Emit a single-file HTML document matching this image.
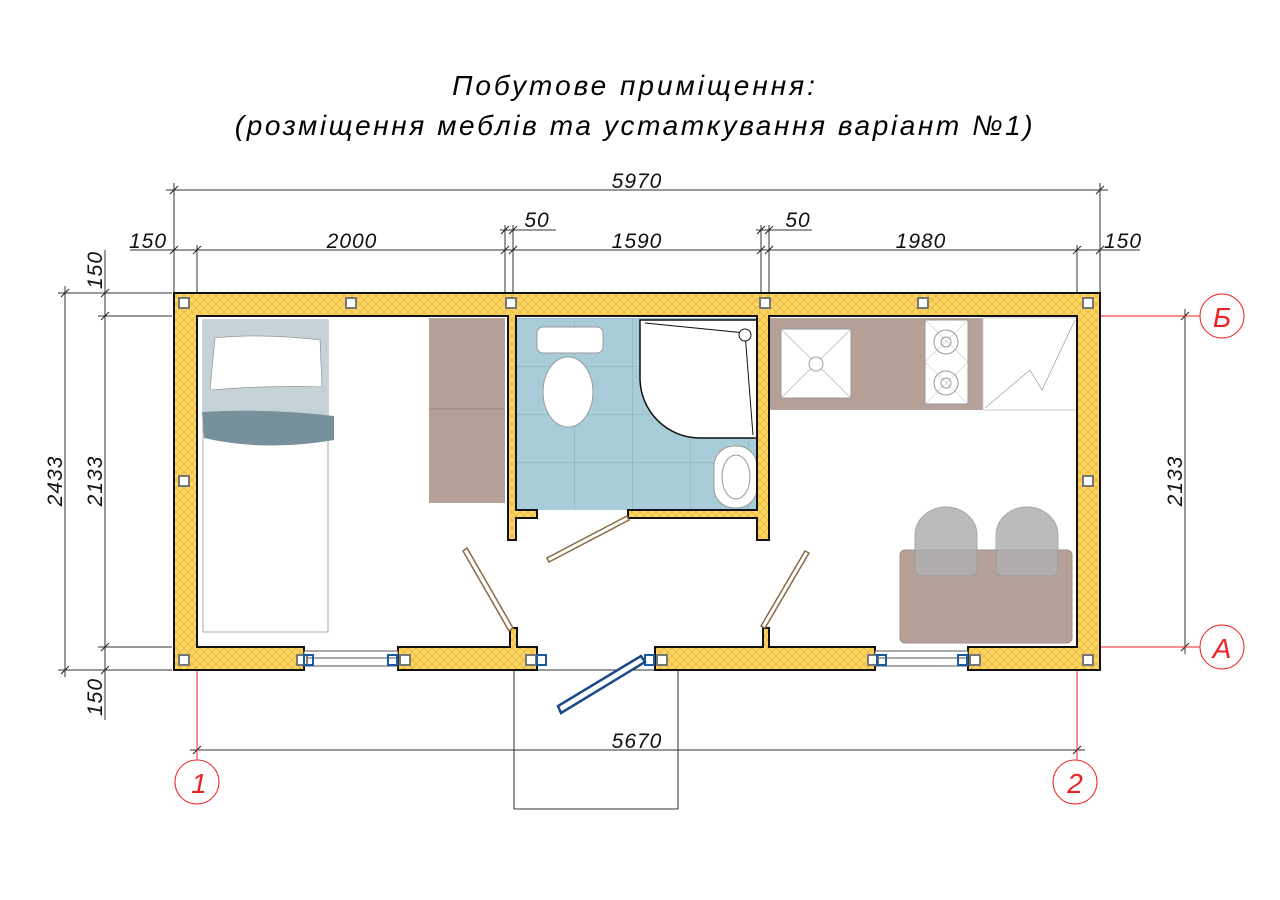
<!DOCTYPE html>
<html><head><meta charset="utf-8"><style>
html,body{margin:0;padding:0;background:#fff;}
svg{display:block}
text{font-family:"Liberation Sans",sans-serif;font-style:italic;}
</style></head><body>
<svg width="1280" height="900" viewBox="0 0 1280 900" xmlns="http://www.w3.org/2000/svg">
<defs>
<pattern id="h" width="8" height="8" patternUnits="userSpaceOnUse">
<rect width="8" height="8" fill="#fdd55e"/>
<path d="M0 0L8 8M8 0L0 8" stroke="#d9a93a" stroke-width="0.6"/>
</pattern>
<pattern id="tile" width="58" height="48" patternUnits="userSpaceOnUse" x="516" y="318">
<rect width="58" height="48" fill="#a9cdd8"/>
<path d="M0 0V48M0 0H58" stroke="#7fa0b4" stroke-width="0.8"/>
</pattern>
</defs>

<text x="635" y="95" font-size="28" text-anchor="middle" letter-spacing="3">Побутове приміщення:</text>
<text x="635" y="135" font-size="28" text-anchor="middle" letter-spacing="2.6">(розміщення меблів та устаткування варіант №1)</text>

<g stroke="#333" stroke-width="1" fill="none">
<line x1="166" y1="190" x2="1108" y2="190"/>
<line x1="174" y1="183" x2="174" y2="292"/><line x1="1100" y1="183" x2="1100" y2="292"/>
<line x1="130" y1="250" x2="1140" y2="250"/>
<line x1="197" y1="245" x2="197" y2="316"/>
<line x1="505" y1="225" x2="505" y2="293"/><line x1="513" y1="225" x2="513" y2="293"/>
<line x1="761" y1="225" x2="761" y2="293"/><line x1="769" y1="225" x2="769" y2="293"/>
<line x1="1077" y1="245" x2="1077" y2="316"/>
<line x1="500" y1="230" x2="556" y2="230"/><line x1="756" y1="230" x2="812" y2="230"/>
<line x1="58" y1="293" x2="172" y2="293"/><line x1="98" y1="316" x2="172" y2="316"/>
<line x1="98" y1="647" x2="172" y2="647"/><line x1="58" y1="670" x2="172" y2="670"/>
<line x1="65" y1="286" x2="65" y2="677"/>
<line x1="105" y1="250" x2="105" y2="720"/>
<line x1="1185" y1="309" x2="1185" y2="654"/>
<line x1="1163" y1="316" x2="1195" y2="316"/><line x1="1163" y1="647" x2="1195" y2="647"/>
<line x1="190" y1="750" x2="1085" y2="750"/>
<rect x="514" y="670" width="164" height="139"/>
</g>
<g stroke="#222" stroke-width="1">
<path d="M170 194l8-8M1096 194l8-8M170 254l8-8M193 254l8-8M501 254l8-8M509 254l8-8M501 234l8-8M509 234l8-8M757 254l8-8M765 254l8-8M757 234l8-8M765 234l8-8M1073 254l8-8M1096 254l8-8M61 297l8-8M61 674l8-8M101 320l8-8M101 651l8-8M101 297l8-8M101 674l8-8M1181 320l8-8M1181 651l8-8M193 754l8-8M1073 754l8-8"/>
</g>
<g font-size="21" fill="#111" letter-spacing="1">
<text x="148" y="248" text-anchor="middle">150</text>
<text x="352" y="248" text-anchor="middle">2000</text>
<text x="537" y="227" text-anchor="middle">50</text>
<text x="637" y="248" text-anchor="middle">1590</text>
<text x="798" y="227" text-anchor="middle">50</text>
<text x="921" y="248" text-anchor="middle">1980</text>
<text x="1123" y="248" text-anchor="middle">150</text>
<text x="637" y="188" text-anchor="middle">5970</text>
<text x="637" y="748" text-anchor="middle">5670</text>
<text transform="translate(62,481) rotate(-90)" text-anchor="middle">2433</text>
<text transform="translate(102,481) rotate(-90)" text-anchor="middle">2133</text>
<text transform="translate(1182,481) rotate(-90)" text-anchor="middle">2133</text>
<text transform="translate(102,270) rotate(-90)" text-anchor="middle">150</text>
<text transform="translate(102,697) rotate(-90)" text-anchor="middle">150</text>
</g>

<g stroke="#e22" stroke-width="1" fill="#fff">
<line x1="1077" y1="316" x2="1200" y2="316"/><line x1="1077" y1="647" x2="1200" y2="647"/>
<line x1="197" y1="670" x2="197" y2="760"/><line x1="1077" y1="316" x2="1077" y2="760"/>
<circle cx="1222" cy="316" r="22"/><circle cx="1222" cy="647" r="22"/>
<circle cx="197" cy="782" r="22"/><circle cx="1075" cy="782" r="22"/>
</g>
<g font-size="28" fill="#e22" text-anchor="middle">
<text x="1222" y="327" style="font-family:'Liberation Sans',sans-serif">Б</text>
<text x="1222" y="658" style="font-family:'Liberation Sans',sans-serif">A</text>
<text x="199" y="793" style="font-family:'Liberation Sans',sans-serif">1</text>
<text x="1075" y="793" style="font-family:'Liberation Sans',sans-serif">2</text>
</g>

<rect x="203" y="320" width="125" height="312" fill="#fff" stroke="#aaa"/>
<rect x="203" y="320" width="125" height="95" fill="#c5d3d8"/>
<path d="M215 338 Q260 333 320 340 L322 387 Q270 385 210 390 Z" fill="#fff" stroke="#888" stroke-width="0.6"/>
<path d="M202 412 Q265 408 334 416 L334 440 Q265 452 204 438 Z" fill="#76919b"/>
<rect x="429" y="318" width="76" height="185" fill="#b5a197"/>
<line x1="429" y1="409" x2="505" y2="409" stroke="#998880"/>
<rect x="516" y="318" width="241" height="192" fill="url(#tile)"/>
<rect x="537" y="327" width="66" height="26" rx="6" fill="#fff" stroke="#999"/>
<ellipse cx="568" cy="392" rx="25" ry="35" fill="#fff" stroke="#999"/>
<path d="M640 320 H757 V438 H700 A60 60 0 0 1 640 378 Z" fill="#fff" stroke="#111" stroke-width="1.5"/>
<path d="M645 323 L745 333 L753 435" fill="none" stroke="#111"/>
<circle cx="745" cy="335" r="6" fill="#fff" stroke="#111"/>
<rect x="714" y="446" width="43" height="62" rx="20" fill="#fff" stroke="#999"/>
<ellipse cx="736" cy="477" rx="14" ry="22" fill="none" stroke="#999"/>
<rect x="769" y="318" width="214" height="92" fill="#b5a197"/>
<rect x="781" y="329" width="70" height="69" fill="#fff" stroke="#999"/>
<path d="M781 329L851 398M851 329L781 398" stroke="#aaa" stroke-width="0.6"/>
<circle cx="816" cy="364" r="7" fill="#fff" stroke="#999"/>
<rect x="925" y="320" width="43" height="84" fill="#fff" stroke="#999"/>
<path d="M925 320L968 362M968 320L925 362M925 362L968 404M968 362L925 404" stroke="#aaa" stroke-width="0.5"/>
<circle cx="946" cy="342" r="12" fill="none" stroke="#999"/><circle cx="946" cy="383" r="12" fill="none" stroke="#999"/>
<circle cx="946" cy="342" r="5" fill="none" stroke="#999"/><circle cx="946" cy="383" r="5" fill="none" stroke="#999"/>
<rect x="983" y="318" width="94" height="92" fill="#fff" stroke="#ccc"/>
<path d="M985 408 L1030 370 L1042 390 L1075 320" fill="none" stroke="#999" stroke-width="0.7"/>
<rect x="900" y="550" width="172" height="93" rx="5" fill="#b5a197" stroke="#a09088"/>
<path d="M915 570 V535 A31 28 0 0 1 977 535 V570 A6 6 0 0 1 971 576 H921 A6 6 0 0 1 915 570Z" fill="#b0b0b0" opacity="0.85" stroke="#999"/>
<path d="M996 570 V535 A31 28 0 0 1 1058 535 V570 A6 6 0 0 1 1052 576 H1002 A6 6 0 0 1 996 570Z" fill="#b0b0b0" opacity="0.85" stroke="#999"/>

<g fill="url(#h)" stroke="#111" stroke-width="2">
<path d="M174 293 H1100 V670 H968 V647 H1077 V316 H769 V540 H757 V518 H628 V510 H757 V316 H516 V510 H537 V518 H516 V540 H508 V316 H197 V647 H304 V670 H174 Z"/>
<path d="M398 647 H510 V628 H517 V647 H537 V670 H398 Z"/>
<path d="M655 647 H763 V628 H769 V647 H875 V670 H655 Z"/>
</g>
<g fill="#fff" stroke="#555" stroke-width="1">
<rect x="304" y="651" width="94" height="15"/><line x1="304" y1="658" x2="398" y2="658"/>
<rect x="875" y="651" width="93" height="15"/><line x1="875" y1="658" x2="968" y2="658"/>
</g>
<g fill="#fff" stroke="#777" stroke-width="2">
<rect x="179" y="298" width="10" height="10"/><rect x="346" y="298" width="10" height="10"/>
<rect x="506" y="298" width="10" height="10"/><rect x="760" y="298" width="10" height="10"/>
<rect x="918" y="298" width="10" height="10"/><rect x="1083" y="298" width="10" height="10"/>
<rect x="179" y="476" width="10" height="10"/><rect x="1083" y="476" width="10" height="10"/>
<rect x="179" y="655" width="10" height="10"/><rect x="1083" y="655" width="10" height="10"/>
<rect x="297" y="655" width="10" height="10"/><rect x="400" y="655" width="10" height="10"/>
<rect x="526" y="655" width="10" height="10"/><rect x="657" y="655" width="10" height="10"/>
<rect x="868" y="655" width="10" height="10"/><rect x="970" y="655" width="10" height="10"/>
</g>
<g fill="none" stroke="#1c5aa0" stroke-width="2">
<rect x="304" y="655" width="9" height="10"/><rect x="388" y="655" width="9" height="10"/>
<rect x="537" y="655" width="9" height="10"/><rect x="645" y="655" width="9" height="10"/>
<rect x="877" y="655" width="9" height="10"/><rect x="958" y="655" width="9" height="10"/>
</g>
<g fill="#fff" stroke="#8b6a45" stroke-width="1.5">
<polygon points="463,551 467,548 513,628 509,631"/>
<polygon points="549,562 547,558 627,516 629,520"/>
<polygon points="765,628 761,626 805,551 809,553"/>
</g>
<polygon points="558,706 561,713 645,662 641,656" fill="#fff" stroke="#1c4a86" stroke-width="2.5"/>
</svg>
</body></html>
